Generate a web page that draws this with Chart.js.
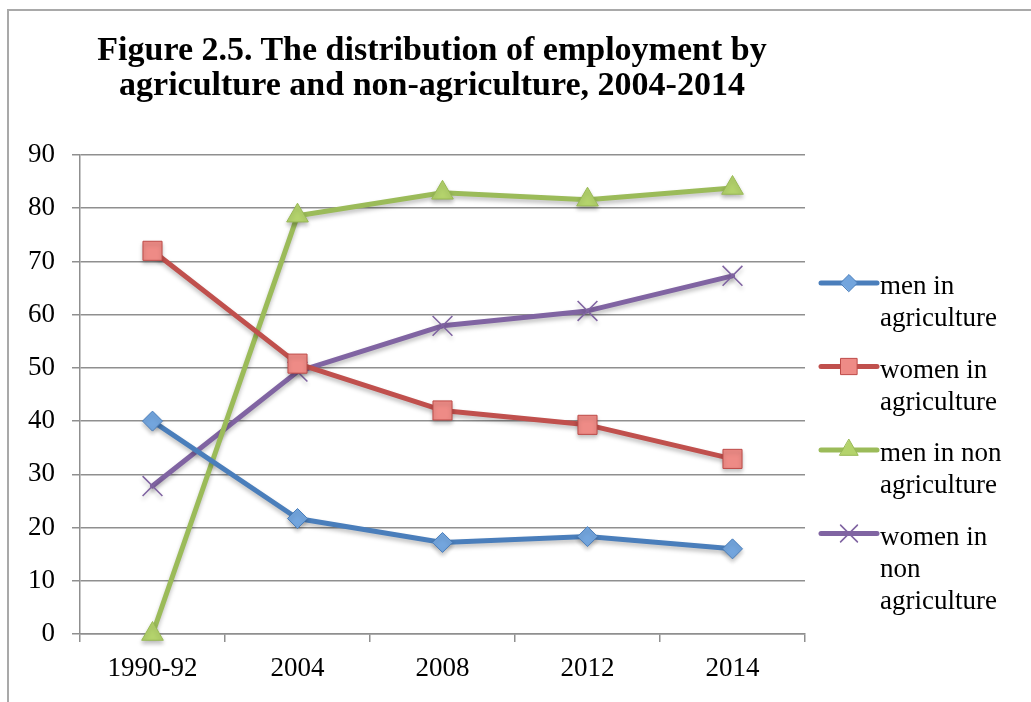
<!DOCTYPE html>
<html>
<head>
<meta charset="utf-8">
<script src="https://cdn.jsdelivr.net/npm/chart.js@4/dist/chart.umd.min.js"></script>
<style>
  html, body { margin: 0; padding: 0; background: #ffffff; overflow: hidden; }
  #frame { position: absolute; left: 7px; top: 9px; width: 1100px; height: 800px;
           border-left: 2px solid #a9a9a9; border-top: 2px solid #a9a9a9; }
  #wrap { position: absolute; left: 0; top: 0; width: 1031px; height: 702px; }
  #title { position: absolute; left: 0; top: 31px; width: 864px; text-align: center;
           font-family: "Liberation Serif", "Times New Roman", serif; font-weight: bold;
           font-size: 34px; line-height: 35px; color: #000; white-space: nowrap; }
</style>
</head>
<body>
<div id="frame"></div>
<div id="wrap"><canvas id="c" width="1031" height="702"></canvas></div>
<div id="title"></div>
<script>
// Employment shares by sector and sex
const categories = ['1990-92', '2004', '2008', '2012', '2014'];
const menAgriculture      = [40, 21.7, 17.2, 18.3, 16.0];
const womenAgriculture    = [72, 50.8, 42.0, 39.3, 32.9];
const menNonAgriculture   = [0, 78.6, 82.9, 81.6, 83.8];
const womenNonAgriculture = [27.8, 49.3, 57.9, 60.7, 67.3];
const seriesNames = [
  ['men in', 'agriculture'],
  ['women in', 'agriculture'],
  ['men in non', 'agriculture'],
  ['women in', 'non', 'agriculture']
];
const titleLines = ['Figure 2.5. The distribution of employment by',
                    'agriculture and non-agriculture, 2004-2014'];
const yMin = 0, yMax = 90, yStep = 10;

const SERIF = '"Liberation Serif", "Times New Roman", serif';
const GRID = '#8f8f8f';

// heading above the plot
const titleEl = document.getElementById('title');
titleLines.forEach((t) => {
  const d = document.createElement('div');
  d.textContent = t;
  titleEl.appendChild(d);
});

const styles = [
  { line: '#4a7ebb', fill: '#73a5dd', edge: '#4a7ebb', point: 'rectRot',  radius: 10,   bw: 1 },
  { line: '#c0504d', fill: '#ee8b86', edge: '#be4b48', point: 'rect',     radius: 13.5, bw: 1 },
  { line: '#9bbb59', fill: '#b4d36c', edge: '#98b954', point: 'triangle', radius: 12.5, bw: 1 },
  { line: '#8064a2', fill: '#8064a2', edge: '#8064a2', point: 'crossRot', radius: 14,   bw: 1.6 }
];
const seriesData = [menAgriculture, womenAgriculture, menNonAgriculture, womenNonAgriculture];

const datasets = seriesData.map((vals, i) => ({
  label: seriesNames[i].join(' '),
  data: vals,
  clip: false,
  borderColor: styles[i].line,
  backgroundColor: styles[i].fill,
  borderWidth: 5,
  borderCapStyle: 'round',
  borderJoinStyle: 'round',
  tension: 0,
  pointStyle: styles[i].point,
  pointRadius: styles[i].radius,
  pointHoverRadius: styles[i].radius,
  pointBackgroundColor: styles[i].fill,
  pointBorderColor: styles[i].edge,
  pointBorderWidth: styles[i].bw
}));

// soft drop shadow under the series
const shadowPlugin = {
  id: 'seriesShadow',
  beforeDatasetsDraw(chart) {
    const ctx = chart.ctx;
    ctx.save();
    ctx.shadowColor = 'rgba(0,0,0,0.25)';
    ctx.shadowBlur = 4;
    ctx.shadowOffsetX = 0;
    ctx.shadowOffsetY = 3;
  },
  afterDatasetsDraw(chart) {
    chart.ctx.restore();
  }
};

// legend on the right with wrapped labels
const sideLegend = {
  id: 'sideLegend',
  afterDraw(chart) {
    const ctx = chart.ctx;
    const area = chart.chartArea;
    const lineX0 = area.right + 16;
    const lineX1 = area.right + 72;
    const textX = area.right + 75;
    const firstY = area.top + 128;
    const entryGap = 83.5;
    const rowGap = 32;
    ctx.save();
    chart.data.datasets.forEach((ds, i) => {
      const st = styles[i];
      const y = firstY + i * entryGap;
      ctx.lineCap = 'round';
      ctx.lineWidth = 5;
      ctx.strokeStyle = st.line;
      ctx.beginPath();
      ctx.moveTo(lineX0, y);
      ctx.lineTo(lineX1, y);
      ctx.stroke();
      ctx.fillStyle = st.fill;
      ctx.strokeStyle = st.edge;
      ctx.lineWidth = st.bw;
      Chart.helpers.drawPoint(ctx, { pointStyle: st.point, radius: st.radius * 0.85, rotation: 0, borderWidth: st.bw },
                              (lineX0 + lineX1) / 2, y);
      ctx.fillStyle = '#000000';
      ctx.font = '27px ' + SERIF;
      ctx.textAlign = 'left';
      ctx.textBaseline = 'alphabetic';
      seriesNames[i].forEach((t, k) => ctx.fillText(t, textX, y + 11 + k * rowGap));
    });
    ctx.restore();
  }
};

new Chart(document.getElementById('c'), {
  type: 'line',
  data: { labels: categories, datasets },
  plugins: [shadowPlugin, sideLegend],
  options: {
    responsive: false,
    animation: false,
    devicePixelRatio: 1,
    layout: { padding: { left: 0, right: 226, top: 155, bottom: 0 } },
    plugins: {
      legend: { display: false },
      tooltip: { enabled: false },
      title: { display: false }
    },
    scales: {
      x: {
        type: 'category',
        offset: true,
        grid: { offset: true, drawOnChartArea: false, drawTicks: true, tickLength: 8, color: GRID, lineWidth: 1.5 },
        border: { display: true, color: GRID, width: 1.5 },
        ticks: { color: '#000000', font: { family: SERIF, size: 27 }, padding: 11, maxRotation: 0, autoSkip: false },
        afterFit(scale) { scale.height = 68; }
      },
      y: {
        min: yMin,
        max: yMax,
        ticks: { stepSize: yStep, color: '#000000', font: { family: SERIF, size: 27 }, padding: 17 },
        grid: { color: GRID, lineWidth: 1.5, drawTicks: true, tickLength: 8 },
        border: { display: true, color: GRID, width: 1.5 },
        afterFit(scale) { scale.width = 80; }
      }
    }
  }
});
</script>
</body>
</html>
